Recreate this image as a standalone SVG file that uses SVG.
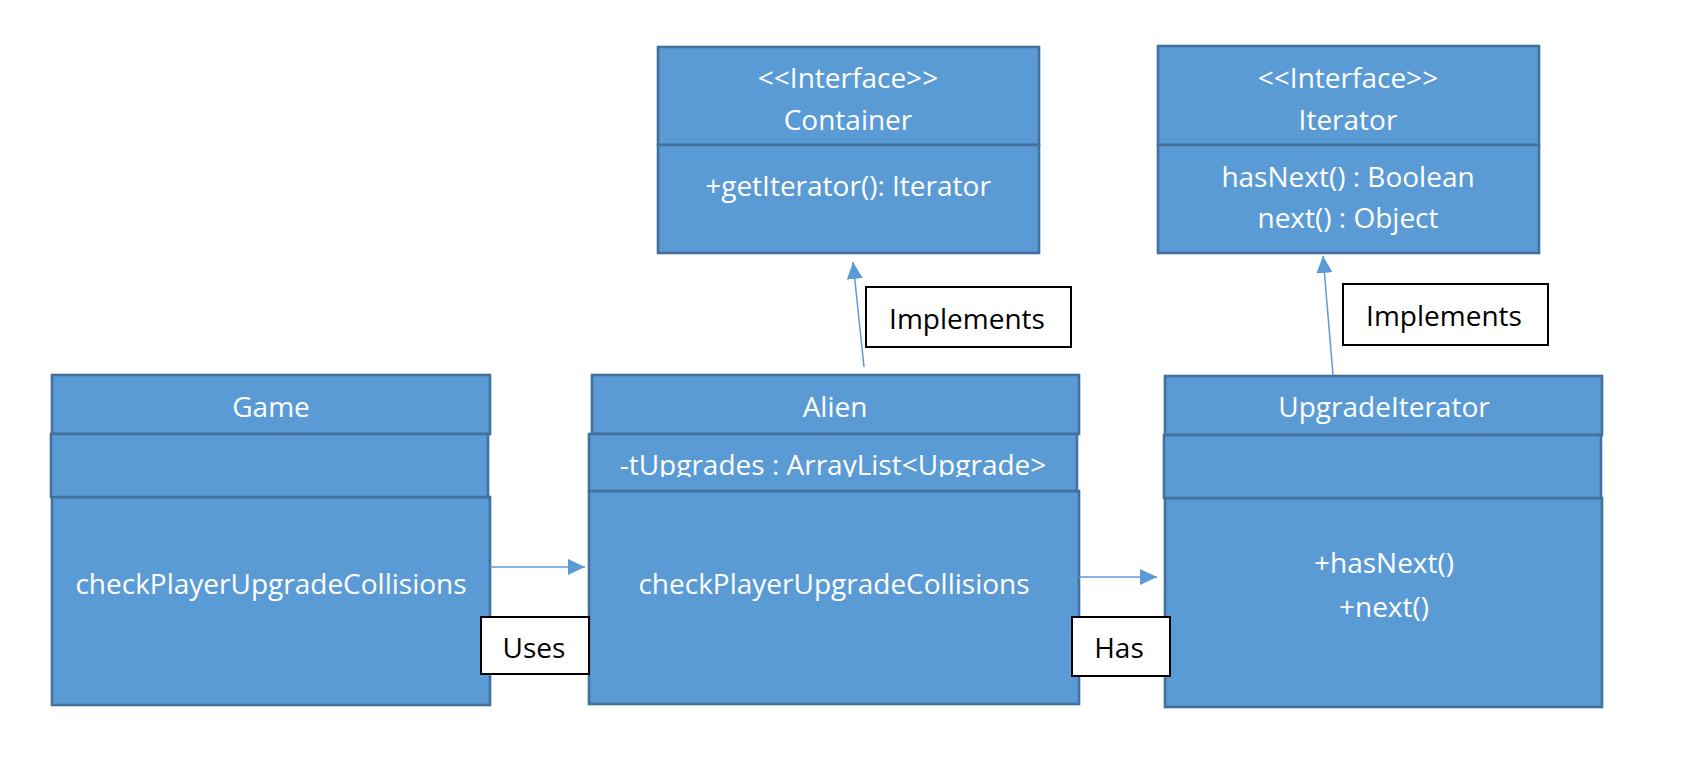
<svg xmlns="http://www.w3.org/2000/svg" width="1682" height="759" viewBox="0 0 1682 759">
<style>
.box{fill:#5B9BD5;stroke:#41719C;stroke-width:2.6}
.t{font-family:"Open Sans","Liberation Sans",sans-serif;font-size:28px;fill:#FFFFFF;text-anchor:middle}
.lbl{fill:#FFFFFF;stroke:#000000;stroke-width:2}
.lt{font-family:"Open Sans","Liberation Sans",sans-serif;font-size:28px;fill:#000000;text-anchor:middle}
.conn{stroke:#5B9BD5;stroke-width:1.5;fill:none;marker-end:url(#arr)}
</style>
<defs>
<marker id="arr" viewBox="0 0 17 16" refX="17" refY="8" markerWidth="17" markerHeight="16" markerUnits="userSpaceOnUse" orient="auto">
<path d="M0,0 L17,8 L0,16 z" fill="#5B9BD5"/>
</marker>
<clipPath id="clipAttr"><rect x="589" y="434" width="488" height="43"/></clipPath>
</defs>
<rect width="1682" height="759" fill="#FFFFFF"/>

<g id="container">
<rect class="box" x="658" y="47" width="381" height="98"/>
<rect class="box" x="658" y="145" width="381" height="108"/>
<text class="t" x="848" y="88">&lt;&lt;Interface&gt;&gt;</text>
<text class="t" x="848" y="130">Container</text>
<text class="t" x="848" y="196">+getIterator(): Iterator</text>
</g>

<g id="iterator">
<rect class="box" x="1158" y="46" width="381" height="99"/>
<rect class="box" x="1158" y="145" width="381" height="108"/>
<text class="t" x="1348" y="88">&lt;&lt;Interface&gt;&gt;</text>
<text class="t" x="1348" y="130">Iterator</text>
<text class="t" x="1348" y="187">hasNext() : Boolean</text>
<text class="t" x="1348" y="228">next() : Object</text>
</g>

<g id="game">
<rect class="box" x="52" y="375" width="438" height="59"/>
<rect class="box" x="52" y="497" width="438" height="208"/>
<rect class="box" x="51" y="434" width="437" height="63"/>
<text class="t" x="271" y="594">checkPlayerUpgradeCollisions</text>
<text class="t" x="271" y="417">Game</text>
</g>

<g id="alien">
<rect class="box" x="592" y="375" width="487" height="59"/>
<rect class="box" x="589" y="491" width="490" height="213"/>
<rect class="box" x="589" y="434" width="488" height="57"/>
<text class="t" x="835" y="417">Alien</text>
<text class="t" x="833" y="475" clip-path="url(#clipAttr)">-tUpgrades : ArrayList&lt;Upgrade&gt;</text>
<text class="t" x="834" y="594">checkPlayerUpgradeCollisions</text>
</g>

<g id="upgradeIterator">
<rect class="box" x="1165" y="376" width="437" height="59"/>
<rect class="box" x="1165" y="498" width="437" height="209"/>
<rect class="box" x="1164" y="435" width="437" height="63"/>
<text class="t" x="1384" y="417">UpgradeIterator</text>
<text class="t" x="1384" y="573">+hasNext()</text>
<text class="t" x="1384" y="617">+next()</text>
</g>

<g id="connectors">
<line class="conn" x1="490" y1="567" x2="585" y2="567"/>
<line class="conn" x1="1079" y1="577" x2="1157" y2="577"/>
<line class="conn" x1="864" y1="367" x2="853" y2="262"/>
<line class="conn" x1="1333" y1="375" x2="1323" y2="256"/>
</g>

<g id="label-uses">
<rect class="lbl" x="481" y="617" width="108" height="57"/>
<text class="lt" x="534" y="658">Uses</text>
</g>
<g id="label-has">
<rect class="lbl" x="1072" y="617" width="98" height="59"/>
<text class="lt" x="1119" y="658">Has</text>
</g>
<g id="label-implements-1">
<rect class="lbl" x="866" y="287" width="205" height="60"/>
<text class="lt" x="967" y="329">Implements</text>
</g>
<g id="label-implements-2">
<rect class="lbl" x="1343" y="284" width="205" height="61"/>
<text class="lt" x="1444" y="326">Implements</text>
</g>
</svg>
